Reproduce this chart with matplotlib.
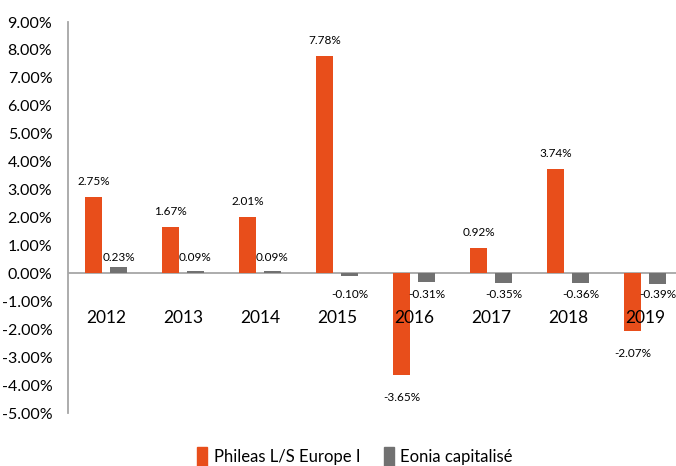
import numpy as np
import matplotlib.pyplot as plt
from matplotlib.patches import Patch

years = ["2012", "2013", "2014", "2015", "2016", "2017", "2018", "2019"]
phileas = [2.75, 1.67, 2.01, 7.78, -3.65, 0.92, 3.74, -2.07]
eonia = [0.23, 0.09, 0.09, -0.10, -0.31, -0.35, -0.36, -0.39]
yticks = np.arange(-5, 10, 1)

orange = "#E84E1B"
grey = "#717171"
plt.rcParams["font.family"] = ["Lato", "DejaVu Sans"]

fig = plt.figure(figsize=(6.76, 4.66), dpi=100)
ax = fig.add_axes([0.0999, 0.1137, 0.911, 0.839])

x = np.arange(len(years))
w = 0.22
off = 0.162
ax.bar(x - off, phileas, w, color=orange, zorder=3)
ax.bar(x + off, eonia, w, color=grey, zorder=3)

ax.axhline(0, color="#A6A6A6", lw=1.3, zorder=2)
ax.set_xlim(-0.5, 7.5)
ax.set_ylim(-5, 9)
ax.set_yticks(yticks)
ax.set_yticklabels([f"{v:.2f}%" for v in yticks], fontsize=11.5)
ax.tick_params(axis="y", length=0, pad=11)
ax.set_xticks([])
for s in ["top", "right", "bottom"]:
    ax.spines[s].set_visible(False)
ax.spines["left"].set_color("#A6A6A6")
ax.spines["left"].set_linewidth(1.3)

# year labels sit below the zero line
for xi, yr in zip(x, years):
    ax.text(xi, -1.6, yr, ha="center", va="center", fontsize=12.5)

# data labels
for xi, v in zip(x, phileas):
    if v >= 0:
        ax.annotate(f"{v:.2f}%", (xi - off, v), xytext=(0, 11), textcoords="offset points",
                    ha="center", va="center", fontsize=8.5)
    else:
        ax.annotate(f"{v:.2f}%", (xi - off, v), xytext=(0, -16), textcoords="offset points",
                    ha="center", va="center", fontsize=8.5)
for xi, v in zip(x, eonia):
    if v >= 0:
        ax.text(xi + off, 0.58, f"{v:.2f}%", ha="center", va="center", fontsize=8.5)
    else:
        ax.text(xi + off, -0.75, f"{v:.2f}%", ha="center", va="center", fontsize=8.5)

handles = [Patch(color=orange, label="Phileas L/S Europe I"),
           Patch(color=grey, label="Eonia capitalisé")]
fig.legend(handles=handles, loc="upper center", bbox_to_anchor=(0.525, 0.072), ncol=2,
           frameon=False, fontsize=12, handlelength=0.6, handleheight=1.3,
           handletextpad=0.4, columnspacing=1.4)

fig.savefig("out.png", dpi=100)
